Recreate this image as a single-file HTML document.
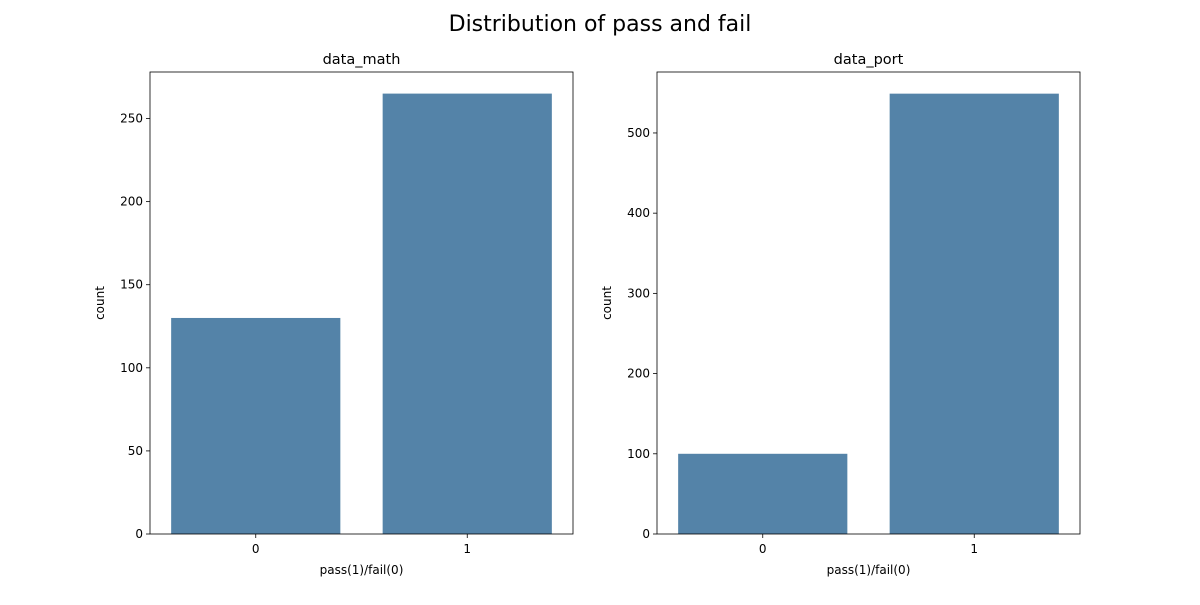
<!DOCTYPE html>
<html><head><meta charset="utf-8"><style>
body{margin:0;background:#fff;font-family:"Liberation Sans","DejaVu Sans",sans-serif;}
svg text{font-family:"DejaVu Sans","Liberation Sans",sans-serif;}
</style></head><body>
<svg id="chart" width="1200" height="600">
<text x="600" y="31" font-size="22" text-anchor="middle">Distribution of pass and fail</text>
</svg>
<script>
const categories = ["0","1"];
const mathCounts = [130, 265];
const portCounts = [100, 549];
const mathTicks = [0,50,100,150,200,250];
const portTicks = [0,100,200,300,400,500];
const svg = document.getElementById('chart');
const NS = 'http://www.w3.org/2000/svg';
function mk(tag, attrs, parent){const e=document.createElementNS(NS,tag);for(const k in attrs)e.setAttribute(k,attrs[k]);(parent||svg).appendChild(e);return e;}
function panel(x0, title, values, ticks, ymax, key){
  const x1=x0+423, yTop=72, yBot=534;
  const g=mk('g',{});
  
  
  const ys=v=>yBot-(v/ymax)*(yBot-yTop);
  const bw=(x1-x0)/categories.length;
  categories.forEach((c,i)=>{
    const r=mk('rect',{x:x0+bw*i+bw*0.1,y:ys(values[i]),width:bw*0.8,height:yBot-ys(values[i]),fill:'#5483a8'},g);
    
    
    const cx=x0+bw*(i+0.5);
    mk('line',{x1:cx,x2:cx,y1:yBot,y2:yBot+4,stroke:'#000','stroke-width':0.8},g);
    const t=mk('text',{x:cx,y:yBot+19,'font-size':12,'text-anchor':'middle'},g);t.textContent=c;
    
    
  });
  ticks.forEach(v=>{
    const y=ys(v);
    mk('line',{x1:x0-4,x2:x0,y1:y,y2:y,stroke:'#000','stroke-width':0.8},g);
    const t=mk('text',{x:x0-7,y:y+4,'font-size':12,'text-anchor':'end'},g);t.textContent=v;
    
    
  });
  mk('rect',{x:x0,y:yTop,width:x1-x0,height:yBot-yTop,fill:'none',stroke:'#000','stroke-width':0.8},g);
  const tt=mk('text',{x:(x0+x1)/2,y:64,'font-size':14.5,'text-anchor':'middle'},g);tt.textContent=title;
  
  
  const xl=mk('text',{x:(x0+x1)/2,y:574,'font-size':12,'text-anchor':'middle'},g);xl.textContent='pass(1)/fail(0)';
  
  
  const yl=mk('text',{x:0,y:0,'font-size':12,'text-anchor':'middle',transform:`translate(${x0-46},303) rotate(-90)`},g);yl.textContent='count';
  
  
}
panel(150,'data_math',mathCounts,mathTicks,278,'math');
panel(657,'data_port',portCounts,portTicks,576,'port');
</script>
</body></html>
